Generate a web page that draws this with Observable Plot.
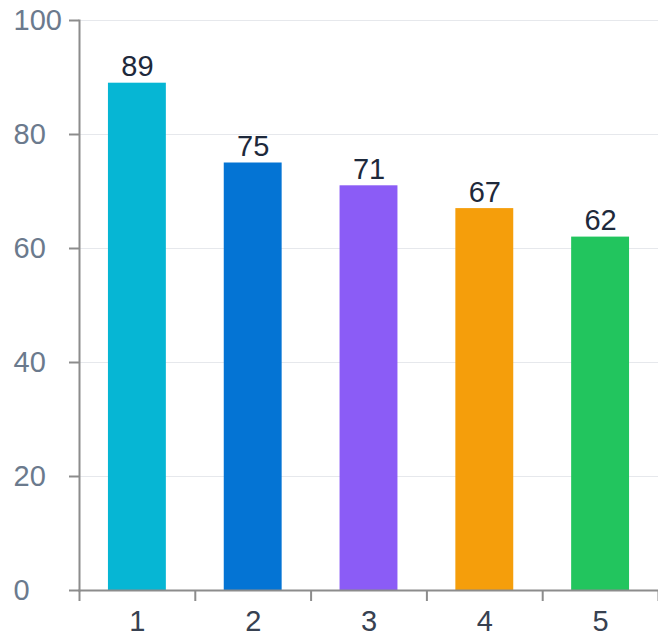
<!DOCTYPE html>
<html>
<head>
<meta charset="utf-8">
<script src="https://cdn.jsdelivr.net/npm/d3@7"></script>
<script src="https://cdn.jsdelivr.net/npm/@observablehq/plot@0.6"></script>
<style>
  html, body { margin: 0; padding: 0; background: #ffffff; }
  svg { display: block; }
</style>
</head>
<body>
<div id="chart"></div>
<script>
// Categories and their values
const categories = [1, 2, 3, 4, 5];
const values = [89, 75, 71, 67, 62];
const colors = ["#06b6d4", "#0474d4", "#8b5cf6", "#f59e0b", "#22c55e"];
const yTicks = [0, 20, 40, 60, 80, 100];

const data = categories.map((c, i) => ({cat: c, value: values[i], color: colors[i]}));

// Boundaries between category slots carry the x-axis tick marks
const boundaries = categories.map(c => c - 0.5).concat([categories[categories.length - 1] + 0.5]);
const halfBar = 0.25;

const axisColor = "#8c8c8c";

const chart = Plot.plot({
  width: 658,
  height: 637,
  marginLeft: 79,
  marginRight: 0,
  marginTop: 20,
  marginBottom: 47,
  style: {
    fontFamily: "'Liberation Sans', Arial, Helvetica, sans-serif",
    fontSize: "29px",
    background: "#ffffff",
    overflow: "visible"
  },
  x: {type: "linear", domain: [0.5, 5.5]},
  y: {domain: [0, 100]},
  marks: [
    Plot.gridY(yTicks, {stroke: "#e6e8ec", strokeOpacity: 1, strokeWidth: 1}),
    Plot.rectY(data, {
      x1: d => d.cat - halfBar,
      x2: d => d.cat + halfBar,
      y1: 0,
      y2: "value",
      fill: "color"
    }),
    Plot.text(data, {
      x: "cat",
      y: "value",
      text: d => String(d.value),
      lineAnchor: "bottom",
      dy: -7,
      fill: "#1e293b",
      fontSize: 29
    }),
    // y axis: line, ticks and left-aligned labels
    Plot.axisY({
      ticks: yTicks,
      tickSize: 10,
      tickPadding: 56,
      textAnchor: "start",
      stroke: axisColor,
      strokeWidth: 2,
      strokeOpacity: 1,
      fill: "#6b7a8d",
      fontSize: 29,
      label: null
    }),
    Plot.frame({anchor: "left", stroke: axisColor, strokeWidth: 2}),
    Plot.frame({anchor: "bottom", stroke: axisColor, strokeWidth: 2}),
    // x axis: tick marks between slots, labels at slot centers
    Plot.axisX({
      ticks: boundaries,
      tickSize: 11,
      tickFormat: () => "",
      stroke: axisColor,
      strokeWidth: 2,
      strokeOpacity: 1,
      label: null
    }),
    Plot.axisX({
      ticks: categories,
      tickSize: 0,
      tickPadding: 20,
      tickFormat: d => String(d),
      fill: "#374151",
      fontSize: 29,
      label: null
    })
  ]
});

document.getElementById("chart").appendChild(chart);
</script>
</body>
</html>
